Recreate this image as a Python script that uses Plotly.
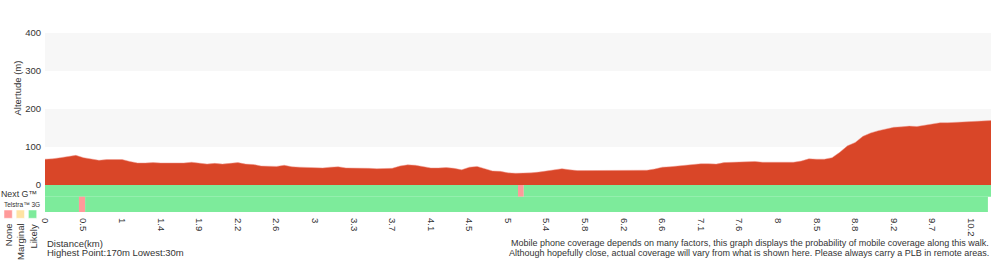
import plotly.graph_objects as go

# ---------------- data ----------------
km_labels = ["0", "0.5", "1", "1.4", "1.9", "2.2", "2.6", "3", "3.3", "3.7", "4.1", "4.5",
             "5", "5.4", "5.8", "6.2", "6.6", "7.1", "7.6", "8", "8.5", "8.8", "9.2", "9.7", "10.2"]
samples_per_label = 5

# altitude (m) per sample along the walk
elevation = [68, 69, 72, 76, 78, 72, 68, 65, 67, 67,
             67, 62, 58, 58, 59, 58, 58, 57, 58, 60,
             58, 55, 57, 55, 57, 59, 55, 54, 50, 49,
             49, 52, 48, 47, 46, 46, 45, 47, 48, 45,
             45, 45, 44, 43, 43, 44, 50, 53, 52, 48,
             45, 45, 46, 44, 40, 47, 49, 43, 37, 36,
             32, 31, 31, 32, 34, 37, 41, 43, 40, 38,
             38, 38, 38, 38, 38, 39, 39, 39, 39, 42,
             47, 48, 50, 53, 55, 56, 56, 55, 59, 60,
             60, 61, 62, 60, 60, 60, 60, 60, 63, 69,
             68, 68, 72, 86, 103, 112, 128, 137, 143, 148,
             152, 153, 155, 154, 157, 161, 164, 164, 165, 167,
             168, 169, 170, 170]

# coverage as runs: (status, length in samples)
next_g_runs = [("Likely", 61.3), ("None", 0.75), ("Likely", 61.0)]
telstra_3g_runs = [("Likely", 4.4), ("None", 0.8), ("Likely", 117.0)]

status_names = ["None", "Marginal", "Likely"]
highest, lowest = 170, 30

# ---------------- styles ----------------
FONT = "Liberation Sans, Arial, Helvetica, sans-serif"
TXT = "#333333"
RED = "#d94628"
COLORS = {"None": "#ff9a9a", "Marginal": "#ffe3a3", "Likely": "#7deb9b"}
BAND = "#f7f7f7"

W, H = 1000, 260
ML, MR, MT, MB = 45, 9, 33, 48
PW, PH = W - ML - MR, H - MT - MB
Y_MIN, Y_MAX = -71, 400
NEXTG_BOTTOM = -30.8


def xp(px):
    return (px - ML) / PW


def yp(py):
    return (H - MB - py) / PH


fig = go.Figure()

# elevation area
fig.add_trace(go.Scatter(
    x=list(range(len(elevation))), y=elevation, mode="lines",
    fill="tozeroy", fillcolor=RED, line=dict(color="rgba(240,150,140,0.8)", width=0.6),
    hoverinfo="skip", showlegend=False,
))


def add_runs(runs, base, top):
    xs, ws, cs = [], [], []
    start = 0.0
    for status, length in runs:
        xs.append(start + length / 2)
        ws.append(length)
        cs.append(COLORS[status])
        start += length
    fig.add_trace(go.Bar(
        x=xs, y=[top - base] * len(xs), base=[base] * len(xs), width=ws,
        marker=dict(color=cs, line=dict(width=0)), hoverinfo="skip", showlegend=False,
    ))


add_runs(next_g_runs, NEXTG_BOTTOM, 0)
add_runs(telstra_3g_runs, Y_MIN, NEXTG_BOTTOM)

n_ticks = len(km_labels)
tickvals = [i * samples_per_label for i in range(n_ticks)]

fig.update_layout(
    width=W, height=H,
    margin=dict(l=ML, r=MR, t=MT, b=MB, pad=0),
    paper_bgcolor="white", plot_bgcolor="white",
    barmode="overlay",
    font=dict(family=FONT, size=9, color=TXT),
    xaxis=dict(
        range=[0, 122.6], tickmode="array", tickvals=tickvals, ticktext=km_labels,
        tickangle=90, showgrid=False, zeroline=False, showline=False, ticks="",
        tickfont=dict(size=9.5, color=TXT), fixedrange=True, ticklabelstandoff=5,
    ),
    yaxis=dict(
        range=[Y_MIN, Y_MAX], tickmode="array", tickvals=[0, 100, 200, 300, 400],
        showgrid=False, zeroline=False, showline=False, ticks="",
        tickfont=dict(size=9.5, color=TXT), fixedrange=True, ticklabelstandoff=3,
    ),
)

# alternating background bands
for lo, hi in [(100, 200), (300, 400)]:
    fig.add_shape(type="rect", xref="paper", yref="y", x0=0, x1=1, y0=lo, y1=hi,
                  fillcolor=BAND, line=dict(width=0), layer="below")

# legend squares
for i, name in enumerate(status_names):
    x0 = 4 + i * 12.2
    fig.add_shape(type="rect", xref="paper", yref="paper",
                  x0=xp(x0), x1=xp(x0 + 8.3), y0=yp(218.3), y1=yp(210),
                  fillcolor=COLORS[name], line=dict(color="rgba(255,255,255,0.5)", width=1))
    fig.add_annotation(text=name, xref="paper", yref="paper", x=xp(x0 + 4.2), y=yp(222.5),
                       xanchor="center", yanchor="top", textangle=-90, showarrow=False,
                       borderpad=0, font=dict(size=9.5, color=TXT, family=FONT))

ann = [
    dict(text="Altertude (m)", x=xp(16.5), y=yp(88), textangle=-90, xanchor="center",
         yanchor="middle", size=9.5),
    dict(text="Next G™", x=xp(0), y=yp(193.5), xanchor="left", yanchor="middle", size=8.8),
    dict(text="Telstra™ 3G", x=xp(3), y=yp(204.5), xanchor="left", yanchor="middle", size=6.5),
    dict(text="Distance(km)", x=xp(46), y=yp(243), xanchor="left", yanchor="middle", size=9.5),
    dict(text=f"Highest Point:{highest}m Lowest:{lowest}m", x=xp(46), y=yp(252.5),
         xanchor="left", yanchor="middle", size=9.5),
    dict(text="Mobile phone coverage depends on many factors, this graph displays the probability of mobile coverage along this walk.",
         x=xp(990), y=yp(243), xanchor="right", yanchor="middle", size=9),
    dict(text="Although hopefully close, actual coverage will vary from what is shown here. Please always carry a PLB in remote areas.",
         x=xp(990), y=yp(252.5), xanchor="right", yanchor="middle", size=9),
]
for a in ann:
    fig.add_annotation(text=a["text"], xref="paper", yref="paper", x=a["x"], y=a["y"],
                       xanchor=a["xanchor"], yanchor=a["yanchor"], textangle=a.get("textangle", 0),
                       showarrow=False, borderpad=0,
                       font=dict(size=a["size"], color=TXT, family=FONT))

fig.write_html("out.html")
